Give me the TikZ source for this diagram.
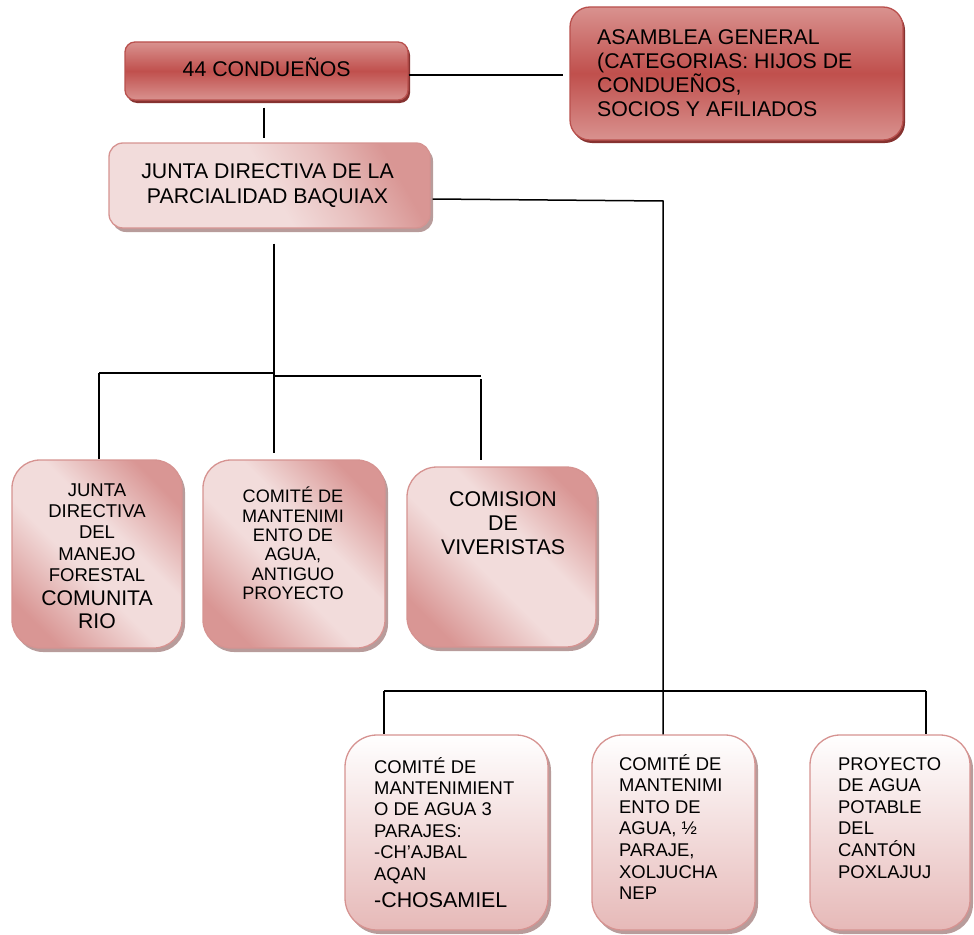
\documentclass[tikz,border=0pt]{standalone}
\usepackage{fontspec}
\setmainfont{Liberation Sans}
\usetikzlibrary{shadows,calc}
\definecolor{dklight}{HTML}{D9928F}
\definecolor{dkmid}{HTML}{C0504D}
\definecolor{dkborder}{HTML}{B9504D}
\definecolor{dkshadow}{HTML}{863230}
\definecolor{pklight}{HTML}{F2DCDB}
\definecolor{pkdark}{HTML}{D99694}
\definecolor{pkborder}{HTML}{D69391}
\definecolor{pkshadow}{HTML}{B89C9B}
\definecolor{btbottom}{HTML}{E6B9B8}
\pgfdeclareverticalshading{pinkdiag}{100bp}{color(0bp)=(pkdark); color(24bp)=(pkdark); color(44bp)=(pklight); color(58bp)=(pklight); color(76bp)=(pkdark); color(100bp)=(pkdark)}
\pgfdeclareverticalshading{pinkwide}{100bp}{color(0bp)=(pklight); color(25bp)=(pklight); color(50bp)=(pklight); color(62bp)=(pklight!60!pkdark); color(75bp)=(pkdark); color(100bp)=(pkdark)}
\newcommand\myst{\rule{0pt}{0.95em}}
\tikzset{
  box/.style={rectangle, inner sep=0pt, line width=1.3pt},
  darkbox/.style={box, draw=dkborder, top color=dklight, bottom color=dklight, middle color=dkmid,
    drop shadow={shadow xshift=2pt, shadow yshift=-3pt, fill=dkshadow, opacity=1}},
  pinkbox/.style={box, draw=pkborder, shading=pinkdiag, shading angle=-45,
    drop shadow={shadow xshift=3pt, shadow yshift=-4pt, fill=pkshadow, opacity=1}},
  widebox/.style={box, draw=pkborder, shading=pinkwide, shading angle=-60,
    drop shadow={shadow xshift=3pt, shadow yshift=-4pt, fill=pkshadow, opacity=1}},
  fadebox/.style={box, draw=pkborder, top color=white, bottom color=btbottom,
    drop shadow={shadow xshift=3pt, shadow yshift=-4pt, fill=pkshadow, opacity=1}},
  txt/.style={inner sep=0pt, anchor=north, align=center, text=black},
  ltxt/.style={inner sep=0pt, anchor=north west, align=left, text=black},
  big/.style={font=\fontsize{21.3}{24}\selectfont},
  conn/.style={draw=black, line width=1.5pt}
}
\begin{document}
\begin{tikzpicture}[x=1pt,y=-1pt]
\useasboundingbox (0,0) rectangle (974,934);
% boxes
\node[darkbox, rounded corners=10pt, minimum width=283pt, minimum height=58pt] (cond) at (266.5,71) {};
\node[darkbox, rounded corners=20pt, minimum width=333pt, minimum height=133pt] (asam) at (736.5,73.5) {};
\node[widebox, rounded corners=14pt, minimum width=321pt, minimum height=85pt] (junta) at (269.5,185.5) {};
\node[pinkbox, rounded corners=28pt, minimum width=170pt, minimum height=188pt] (c1) at (97,554) {};
\node[pinkbox, rounded corners=28pt, minimum width=182pt, minimum height=188pt] (c2) at (294,554) {};
\node[pinkbox, rounded corners=30pt, minimum width=189pt, minimum height=180pt] (c3) at (501.5,557) {};
\node[fadebox, rounded corners=32pt, minimum width=203pt, minimum height=195pt] (b1) at (446.5,832.5) {};
\node[fadebox, rounded corners=30pt, minimum width=163pt, minimum height=195pt] (b2) at (673.5,832.5) {};
\node[fadebox, rounded corners=30pt, minimum width=160pt, minimum height=195pt] (b3) at (890,832.5) {};
% texts
\node[txt, big] (tcond) at (266.7,55.7) {\myst 44 CONDUEÑOS};
\node[ltxt, big] (tasam) at (597,23.7) {\myst ASAMBLEA GENERAL\\(CATEGORIAS: HIJOS DE\\CONDUEÑOS,\\SOCIOS Y AFILIADOS};
\node[txt, font=\fontsize{21.3}{25}\selectfont] (tjunta) at (267.5,157.7) {\myst JUNTA DIRECTIVA DE LA\\PARCIALIDAD BAQUIAX};
\node[txt, font=\fontsize{18.5}{21.3}\selectfont] (tc1a) at (97,478.4) {\myst JUNTA\\DIRECTIVA\\DEL\\MANEJO\\FORESTAL};
\node[txt, font=\fontsize{21.2}{23}\selectfont] (tc1b) at (97,584.7) {\myst COMUNITA\\RIO};
\node[txt, font=\fontsize{18.1}{19.3}\selectfont] (tc2) at (293,485.5) {\myst COMITÉ DE\\MANTENIMI\\ENTO DE\\AGUA,\\ANTIGUO\\PROYECTO};
\node[txt, big] (tc3) at (503,485.7) {\myst COMISION\\DE\\VIVERISTAS};
\node[ltxt, font=\fontsize{18.4}{21.4}\selectfont] (tb1a) at (374,755.4) {\myst COMITÉ DE\\MANTENIMIENT\\O DE AGUA 3\\PARAJES:\\-CH’AJBAL\\AQAN};
\node[ltxt, font=\fontsize{21.4}{24}\selectfont] (tb1b) at (374,886.6) {\myst -CHOSAMIEL};
\node[ltxt, font=\fontsize{18.4}{21.6}\selectfont] (tb2) at (619,752.4) {\myst COMITÉ DE\\MANTENIMI\\ENTO DE\\AGUA, ½\\PARAJE,\\XOLJUCHA\\NEP};
\node[ltxt, font=\fontsize{18.4}{21.6}\selectfont] (tb3) at (838,752.4) {\myst PROYECTO\\DE AGUA\\POTABLE\\DEL\\CANTÓN\\POXLAJUJ};
% junction coordinates
\coordinate (busL) at (99,373);
\coordinate (busM) at (274,373);
\coordinate (busM2) at (274,376);
\coordinate (busR) at (481,376);
\coordinate (jR) at (663,201);
\coordinate (bbL) at (384,691);
\coordinate (bbR) at (926,691);
% connectors
\draw[conn] ([yshift=-4pt]cond.east) -- ([yshift=-4pt,xshift=-6pt]cond.east -| asam.west);
\draw[conn] ($(cond.south)+(-2.5,7)$) -- ($(cond.south |- junta.north)+(-2.5,-4)$);
\draw[conn] ($(junta.south)+(4.5,15)$) -- ($(junta.south |- c2.north)+(4.5,-6)$);
\draw[conn] (busL) -- (busM);
\draw[conn] (busM2) -- (busR);
\draw[conn] (busL) -- (busL |- c1.north);
\draw[conn] ($(busR)+(0,3)$) -- ($(busR |- c3.north)+(0,-6)$);
\draw[conn] ([yshift=-13.5pt,xshift=2pt]junta.east) -- (jR) -- (jR |- b2.north);
\draw[conn] (bbL) -- (bbR);
\draw[conn] (bbL) -- (bbL |- b1.north);
\draw[conn] (bbR) -- (bbR |- b3.north);
\end{tikzpicture}
\end{document}
